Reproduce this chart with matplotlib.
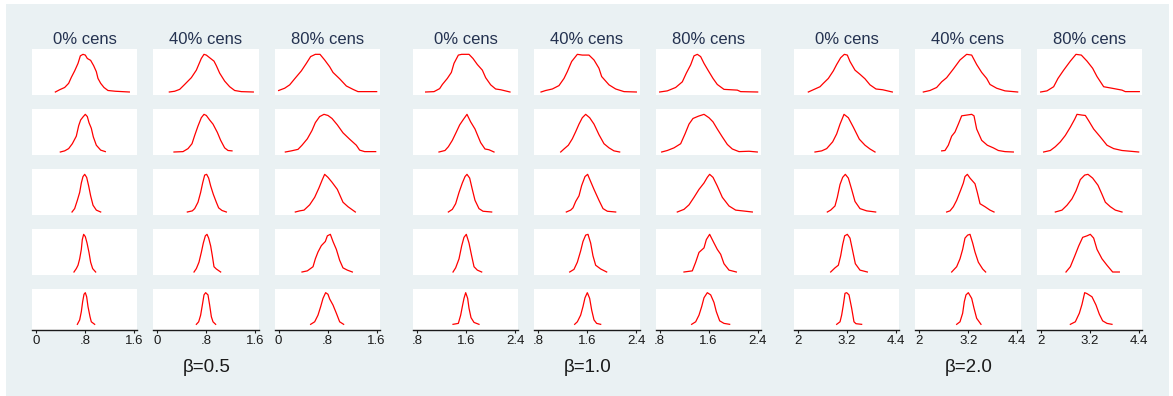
import matplotlib
matplotlib.use("Agg")
import matplotlib.pyplot as plt
from matplotlib.patches import Rectangle

W, H = 1173, 396
plt.rcParams['font.family'] = ['Liberation Sans', 'DejaVu Sans']

# ---- labels -------------------------------------------------------------
betas = ["\u03b2=0.5", "\u03b2=1.0", "\u03b2=2.0"]
cens_labels = ["0% cens", "40% cens", "80% cens"]
tick_values = [[0, 0.8, 1.6], [0.8, 1.6, 2.4], [2, 3.2, 4.4]]
tick_labels = [["0", ".8", "1.6"], [".8", "1.6", "2.4"], ["2", "3.2", "4.4"]]

# ---- kernel density curves (peak scaled to 1), one list per sample-size row
# beta = 0.5
b05_c0_x = [
    [0.316,0.386,0.468,0.533,0.577,0.631,0.686,0.724,0.767,0.805,0.838,0.892,0.941,0.985,1.012,1.056,1.110,1.175,1.295,1.524],
    [0.397,0.468,0.533,0.593,0.658,0.697,0.729,0.767,0.805,0.838,0.865,0.903,0.936,0.985,1.056,1.132],
    [0.588,0.631,0.675,0.713,0.740,0.767,0.795,0.827,0.860,0.892,0.931,0.985,1.056],
    [0.620,0.658,0.686,0.713,0.740,0.756,0.778,0.805,0.833,0.865,0.892,0.925,0.974],
    [0.675,0.713,0.740,0.762,0.784,0.805,0.827,0.849,0.882,0.903,0.958],
]
b05_c0_y = [
    [0,0.06,0.12,0.23,0.39,0.56,0.76,0.96,1.0,0.98,0.89,0.84,0.70,0.54,0.36,0.23,0.12,0.04,0.02,0],
    [0,0.03,0.09,0.22,0.42,0.70,0.85,0.93,1.0,0.94,0.78,0.63,0.40,0.18,0.05,0.01],
    [0,0.09,0.31,0.52,0.77,0.94,1.0,0.92,0.69,0.43,0.18,0.05,0],
    [0,0.09,0.18,0.35,0.60,0.86,1.0,0.94,0.77,0.52,0.26,0.09,0],
    [0,0.14,0.40,0.72,0.95,1.0,0.87,0.56,0.24,0.08,0],
]
b05_c40_x = [
    [0.196,0.283,0.365,0.446,0.555,0.637,0.718,0.762,0.800,0.854,0.925,0.963,1.018,1.099,1.181,1.263,1.371,1.567],
    [0.272,0.419,0.501,0.566,0.610,0.664,0.718,0.762,0.800,0.854,0.909,0.980,1.034,1.099,1.154,1.219],
    [0.490,0.571,0.610,0.664,0.707,0.740,0.773,0.805,0.838,0.871,0.914,0.963,1.001,1.056,1.127],
    [0.599,0.637,0.680,0.718,0.751,0.784,0.811,0.838,0.871,0.898,0.925,0.963,1.034],
    [0.637,0.675,0.707,0.735,0.762,0.789,0.827,0.854,0.882,0.909,0.952],
]
b05_c40_y = [
    [0,0.02,0.07,0.20,0.38,0.58,0.89,1.0,0.98,0.91,0.82,0.70,0.50,0.29,0.14,0.04,0.01,0],
    [0,0.01,0.09,0.22,0.44,0.69,0.91,1.0,0.97,0.85,0.74,0.52,0.31,0.11,0.04,0.03],
    [0,0.03,0.09,0.26,0.52,0.77,0.98,1.0,0.90,0.69,0.47,0.26,0.11,0.04,0],
    [0,0.09,0.26,0.52,0.77,0.96,1.0,0.90,0.69,0.43,0.14,0.08,0],
    [0,0.08,0.29,0.61,0.93,1.0,0.93,0.61,0.24,0.08,0],
]
b05_c80_x = [
    [0.0,0.098,0.180,0.261,0.370,0.452,0.522,0.599,0.675,0.751,0.833,0.887,0.996,1.105,1.214,1.295,1.600],
    [0.109,0.207,0.316,0.381,0.468,0.544,0.599,0.669,0.740,0.805,0.871,0.958,1.050,1.159,1.268,1.322,1.404,1.584],
    [0.272,0.343,0.414,0.506,0.588,0.658,0.713,0.751,0.805,0.871,0.958,1.050,1.132,1.252],
    [0.381,0.468,0.561,0.599,0.642,0.697,0.762,0.795,0.844,0.887,0.942,0.996,1.050,1.121,1.203],
    [0.522,0.588,0.642,0.686,0.724,0.767,0.805,0.833,0.887,0.942,0.996,1.061],
]
b05_c80_y = [
    [0.04,0.10,0.19,0.35,0.56,0.76,0.94,1.0,1.0,0.85,0.67,0.52,0.35,0.16,0.07,0.01,0.01],
    [0,0.03,0.07,0.18,0.35,0.57,0.78,0.94,1.0,0.97,0.89,0.72,0.51,0.34,0.18,0.05,0.01,0.01],
    [0,0.03,0.05,0.19,0.39,0.64,0.86,1.0,0.92,0.79,0.60,0.26,0.14,0],
    [0,0.03,0.14,0.35,0.53,0.70,0.81,0.96,1.0,0.81,0.60,0.31,0.11,0.05,0],
    [0,0.08,0.29,0.56,0.82,1.0,0.95,0.80,0.61,0.35,0.08,0],
]

# beta = 1.0
b10_c0_x = [
    [0.941,1.078,1.170,1.214,1.295,1.361,1.404,1.475,1.529,1.649,1.714,1.785,1.867,1.921,2.003,2.084,2.166,2.318],
    [1.159,1.257,1.312,1.377,1.442,1.497,1.551,1.616,1.676,1.747,1.785,1.839,1.910,1.975,2.057],
    [1.312,1.377,1.431,1.486,1.540,1.584,1.616,1.660,1.703,1.747,1.812,1.878,2.019],
    [1.388,1.431,1.486,1.529,1.567,1.605,1.649,1.692,1.731,1.785,1.856],
    [1.388,1.475,1.513,1.540,1.567,1.595,1.627,1.649,1.682,1.731,1.812],
]
b10_c0_y = [
    [0,0.01,0.09,0.20,0.36,0.52,0.76,0.98,1.0,1.0,0.89,0.73,0.58,0.38,0.19,0.08,0.06,0],
    [0,0.04,0.14,0.31,0.53,0.72,0.85,1.0,0.80,0.61,0.46,0.25,0.08,0.06,0],
    [0,0.07,0.22,0.52,0.77,0.94,1.0,0.90,0.60,0.31,0.09,0.02,0],
    [0,0.11,0.35,0.69,0.92,1.0,0.77,0.43,0.14,0.05,0],
    [0,0.03,0.29,0.56,0.82,1.0,0.82,0.51,0.21,0.06,0],
]
b10_c40_x = [
    [0.844,0.920,1.029,1.137,1.219,1.273,1.344,1.437,1.518,1.627,1.709,1.790,1.834,1.954,2.063,2.199,2.400],
    [1.165,1.219,1.290,1.355,1.410,1.464,1.518,1.573,1.638,1.709,1.790,1.872,1.954,2.035,2.128],
    [1.257,1.328,1.366,1.410,1.464,1.507,1.562,1.605,1.654,1.709,1.790,1.856,1.927,2.063],
    [1.312,1.382,1.437,1.491,1.529,1.573,1.611,1.654,1.692,1.736,1.818,1.916],
    [1.393,1.437,1.491,1.529,1.562,1.600,1.638,1.671,1.709,1.752,1.818],
]
b10_c40_y = [
    [0,0.04,0.08,0.17,0.36,0.54,0.81,1.0,0.98,0.98,0.85,0.63,0.41,0.19,0.08,0.01,0],
    [0,0.08,0.18,0.35,0.54,0.74,0.91,1.0,0.91,0.74,0.46,0.22,0.11,0.03,0],
    [0,0.05,0.11,0.28,0.43,0.70,0.94,1.0,0.81,0.60,0.31,0.09,0.02,0],
    [0,0.07,0.26,0.56,0.81,0.98,1.0,0.77,0.43,0.18,0.08,0],
    [0,0.08,0.29,0.56,0.84,1.0,0.82,0.45,0.14,0.03,0],
]
b10_c80_x = [
    [0.800,0.925,1.061,1.170,1.235,1.306,1.361,1.415,1.469,1.524,1.589,1.671,1.741,1.850,2.068,2.122,2.400],
    [0.833,0.925,1.034,1.143,1.214,1.279,1.344,1.431,1.524,1.605,1.671,1.741,1.823,1.905,1.986,2.095,2.258,2.394],
    [1.088,1.197,1.279,1.361,1.442,1.524,1.578,1.616,1.671,1.741,1.823,1.932,2.041,2.150,2.313],
    [1.197,1.333,1.388,1.442,1.524,1.562,1.616,1.687,1.741,1.796,1.850,1.932,2.052],
    [1.322,1.388,1.442,1.486,1.524,1.578,1.633,1.687,1.725,1.780,1.850,1.943],
]
b10_c80_y = [
    [0,0.03,0.12,0.27,0.50,0.72,0.96,1.0,0.94,0.76,0.58,0.36,0.20,0.07,0.05,0.01,0],
    [0,0.04,0.11,0.22,0.48,0.74,0.89,0.95,1.0,0.91,0.80,0.61,0.40,0.20,0.08,0.01,0.02,0],
    [0,0.07,0.19,0.39,0.60,0.77,0.92,1.0,0.92,0.69,0.39,0.16,0.05,0.03,0],
    [0,0.03,0.26,0.52,0.64,0.86,1.0,0.77,0.60,0.47,0.22,0.05,0],
    [0,0.08,0.29,0.56,0.84,1.0,0.93,0.69,0.40,0.11,0.03,0],
]

# beta = 2.0
b20_c0_x = [
    [2.253,2.416,2.539,2.620,2.743,2.865,2.947,3.045,3.135,3.208,3.273,3.396,3.518,3.641,3.763,3.910,4.073,4.310],
    [2.416,2.580,2.702,2.849,2.947,3.029,3.127,3.233,3.355,3.502,3.641,3.763,3.886],
    [2.718,2.800,2.906,2.963,3.029,3.094,3.159,3.233,3.314,3.396,3.518,3.682,3.902],
    [2.800,2.906,2.988,3.045,3.094,3.143,3.208,3.273,3.339,3.404,3.518,3.698],
    [2.947,3.029,3.069,3.110,3.151,3.192,3.249,3.314,3.371,3.420,3.559],
]
b20_c0_y = [
    [0,0.08,0.14,0.23,0.36,0.56,0.73,0.91,1.0,0.98,0.81,0.58,0.47,0.35,0.19,0.08,0.06,0],
    [0,0.03,0.09,0.27,0.48,0.74,1.0,0.91,0.66,0.34,0.18,0.08,0],
    [0,0.05,0.16,0.39,0.73,0.92,1.0,0.90,0.60,0.28,0.09,0.03,0],
    [0,0.11,0.18,0.43,0.73,0.96,1.0,0.90,0.56,0.22,0.05,0],
    [0,0.08,0.29,0.61,0.98,1.0,0.93,0.51,0.08,0.02,0],
]
b20_c40_x = [
    [2.098,2.261,2.424,2.547,2.669,2.833,2.996,3.159,3.282,3.404,3.527,3.649,3.731,3.894,4.098,4.408],
    [2.547,2.629,2.710,2.792,2.873,2.955,3.037,3.159,3.282,3.339,3.404,3.527,3.665,3.812,3.935,4.098,4.302],
    [2.669,2.751,2.833,2.914,3.012,3.078,3.118,3.176,3.241,3.363,3.420,3.486,3.608,3.731,3.829],
    [2.792,2.914,2.996,3.061,3.118,3.184,3.241,3.306,3.363,3.445,3.551,3.624],
    [2.914,2.996,3.061,3.102,3.143,3.200,3.282,3.339,3.404,3.510],
]
b20_c40_y = [
    [0,0.04,0.12,0.27,0.38,0.61,0.85,1.0,0.98,0.73,0.52,0.36,0.20,0.10,0.03,0],
    [0.03,0.04,0.18,0.42,0.53,0.74,0.96,0.98,1.0,0.96,0.61,0.31,0.18,0.11,0.04,0.01,0],
    [0,0.03,0.14,0.31,0.58,0.77,0.94,1.0,0.90,0.75,0.52,0.22,0.14,0.05,0],
    [0,0.14,0.35,0.60,0.90,0.98,1.0,0.77,0.53,0.26,0.08,0],
    [0,0.08,0.35,0.72,0.93,1.0,0.82,0.51,0.19,0],
]
b20_c80_x = [
    [2.000,2.155,2.318,2.424,2.563,2.727,2.865,2.996,3.135,3.273,3.380,3.543,3.747,3.992,4.073,4.416],
    [2.073,2.237,2.359,2.482,2.604,2.727,2.833,2.890,3.012,3.094,3.176,3.298,3.461,3.624,3.788,3.992,4.400],
    [2.359,2.522,2.645,2.767,2.865,2.971,3.078,3.159,3.273,3.404,3.502,3.584,3.706,3.829,3.992],
    [2.620,2.727,2.833,2.931,3.029,3.135,3.216,3.298,3.380,3.502,3.624,3.763,3.927],
    [2.727,2.849,2.947,3.012,3.078,3.135,3.257,3.355,3.437,3.518,3.624,3.747],
]
b20_c80_y = [
    [0,0.03,0.14,0.36,0.58,0.82,1.0,0.98,0.82,0.63,0.41,0.14,0.10,0.05,0.01,0.01],
    [0,0.04,0.14,0.27,0.44,0.66,0.87,1.0,0.98,0.97,0.83,0.61,0.40,0.18,0.09,0.04,0],
    [0,0.05,0.18,0.35,0.56,0.86,0.98,1.0,0.90,0.71,0.47,0.26,0.14,0.05,0],
    [0,0.14,0.42,0.69,0.92,0.96,1.0,0.90,0.60,0.35,0.18,0,0],
    [0,0.08,0.35,0.63,1.0,0.97,0.87,0.61,0.32,0.11,0.03,0],
]

curves = [
    [(b05_c0_x, b05_c0_y), (b05_c40_x, b05_c40_y), (b05_c80_x, b05_c80_y)],
    [(b10_c0_x, b10_c0_y), (b10_c40_x, b10_c40_y), (b10_c80_x, b10_c80_y)],
    [(b20_c0_x, b20_c0_y), (b20_c40_x, b20_c40_y), (b20_c80_x, b20_c80_y)],
]

# ---- figure -------------------------------------------------------------
BG = '#EAF1F3'
TITLE_COLOR = '#243250'

fig = plt.figure(figsize=(W / 100, H / 100), dpi=100)
fig.patch.set_facecolor('white')
fig.patches.append(Rectangle((6 / W, 0), (1169 - 6) / W, (396 - 4) / H,
                             transform=fig.transFigure, facecolor=BG,
                             edgecolor='none', zorder=-10))


def px_axes(left, top, width, height):
    return fig.add_axes([left / W, 1 - (top + height) / H, width / W, height / H])


panel_w = 105.3
row_tops = [49, 109, 169, 229, 289]
row_h = [46, 46, 46, 46, 41]

for g in range(3):
    lo, hi = tick_values[g][0], tick_values[g][-1]
    ppu = 98.0 / (hi - lo)
    xlim = (lo - 4.0 / ppu, hi + 3.3 / ppu)
    for c in range(3):
        left = 32 + 381 * g + 121.33 * c
        xs_rows, ys_rows = curves[g][c]
        for r in range(5):
            ax = px_axes(left, row_tops[r], panel_w, row_h[r])
            ax.set_facecolor('white')
            ax.plot(xs_rows[r], ys_rows[r], color='#FF0000', lw=0.9,
                    solid_joinstyle='round')
            ax.set_xlim(*xlim)
            if r < 4:
                ax.set_ylim(-0.0796, 1.1416)
            else:
                ax.set_ylim(-0.179, 1.116)
            for s in ('top', 'right', 'left'):
                ax.spines[s].set_visible(False)
            ax.set_yticks([])
            if r < 4:
                ax.spines['bottom'].set_visible(False)
                ax.set_xticks([])
            else:
                ax.spines['bottom'].set_color('#1a1a1a')
                ax.spines['bottom'].set_linewidth(1.0)
                ax.set_xticks(tick_values[g])
                ax.set_xticklabels(tick_labels[g])
                ax.tick_params(axis='x', length=2.5, width=0.8, colors='#1a1a1a',
                               labelsize=9.5, pad=1.0)
            if r == 0:
                fig.text((left + panel_w / 2) / W, 1 - 39 / H, cens_labels[c],
                         ha='center', va='center', fontsize=12,
                         color=TITLE_COLOR)
    mid_left = 32 + 381 * g + 121.33
    fig.text((mid_left + panel_w / 2 + 1) / W, 1 - 371.7 / H, betas[g],
             ha='center', va='baseline', fontsize=13.5, color='#1a1a1a')

fig.savefig('out.png', dpi=100, facecolor=fig.get_facecolor())
